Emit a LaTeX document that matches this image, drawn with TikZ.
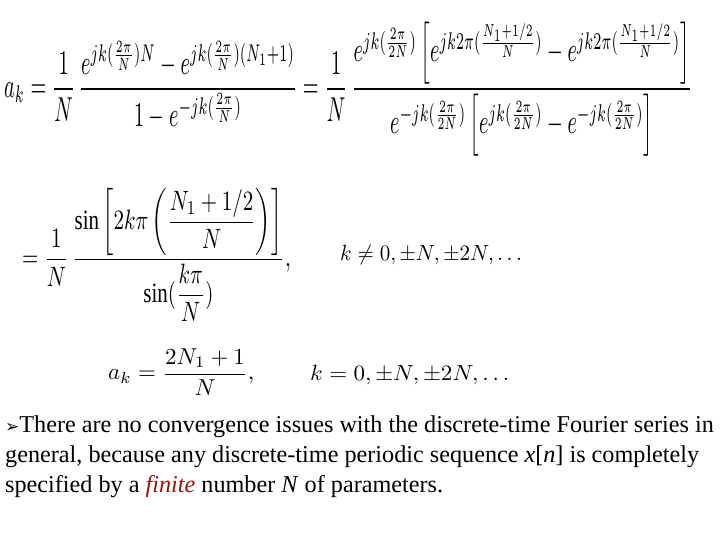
\documentclass[tikz,border=0pt]{standalone}
\usepackage{fontspec}
\usepackage{amsmath}
\usepackage{graphicx}
\setmainfont{Liberation Serif}
\newfontfamily\dejavu{DejaVu Sans}
\begin{document}
\begin{tikzpicture}[x=1pt,y=1pt,
  eq/.style={inner sep=0pt,anchor=west},
  txt/.style={inner sep=0pt,anchor=base west,font=\fontsize{24.2}{28}\selectfont}]
\useasboundingbox (0,0) rectangle (720,-540);
\node[eq] (e1) at (4,-89) {\scalebox{2.03}[3.45]{$\displaystyle a_k=\frac{1}{N}\,\frac{e^{jk(\frac{2\pi}{N})N}-e^{jk(\frac{2\pi}{N})(N_1+1)}}{1-e^{-jk(\frac{2\pi}{N})}}=\frac{1}{N}\,\frac{e^{jk(\frac{2\pi}{2N})}\left[e^{jk2\pi(\frac{N_1+1/2}{N})}-e^{jk2\pi(\frac{N_1+1/2}{N})}\right]}{e^{-jk(\frac{2\pi}{2N})}\left[e^{jk(\frac{2\pi}{2N})}-e^{-jk(\frac{2\pi}{2N})}\right]}$}};
\node[eq] (e2) at (22,-255) {\scalebox{2.1}[2.8]{$\displaystyle =\frac{1}{N}\,\frac{\sin\left[2k\pi\left(\dfrac{N_1+1/2}{N}\right)\right]}{\sin(\dfrac{k\pi}{N})},$}};
\node[eq] (e3) at (340,-255) {\scalebox{2.1}[2.2]{$k\neq 0,\pm N,\pm 2N,\dots$}};
\node[eq] (e4) at (108,-372) {\scalebox{2.3}[2.3]{$\displaystyle a_k=\frac{2N_1+1}{N},$}};
\node[eq] (e5) at (310,-375) {\scalebox{2.3}[2.2]{$k=0,\pm N,\pm 2N,\dots$}};
\node[txt] (t1) at (5,-432) {{\dejavu\fontsize{17}{18}\selectfont ➢}There are no convergence issues with the discrete-time Fourier series in};
\node[txt] (t2) at (5,-462) {general, because any discrete-time periodic sequence \textit{x}[\textit{n}] is completely};
\node[txt] (t3) at (5,-492) {specified by a \textcolor[HTML]{A01010}{\textit{finite}} number \textit{N} of parameters.};
\end{tikzpicture}
\end{document}
